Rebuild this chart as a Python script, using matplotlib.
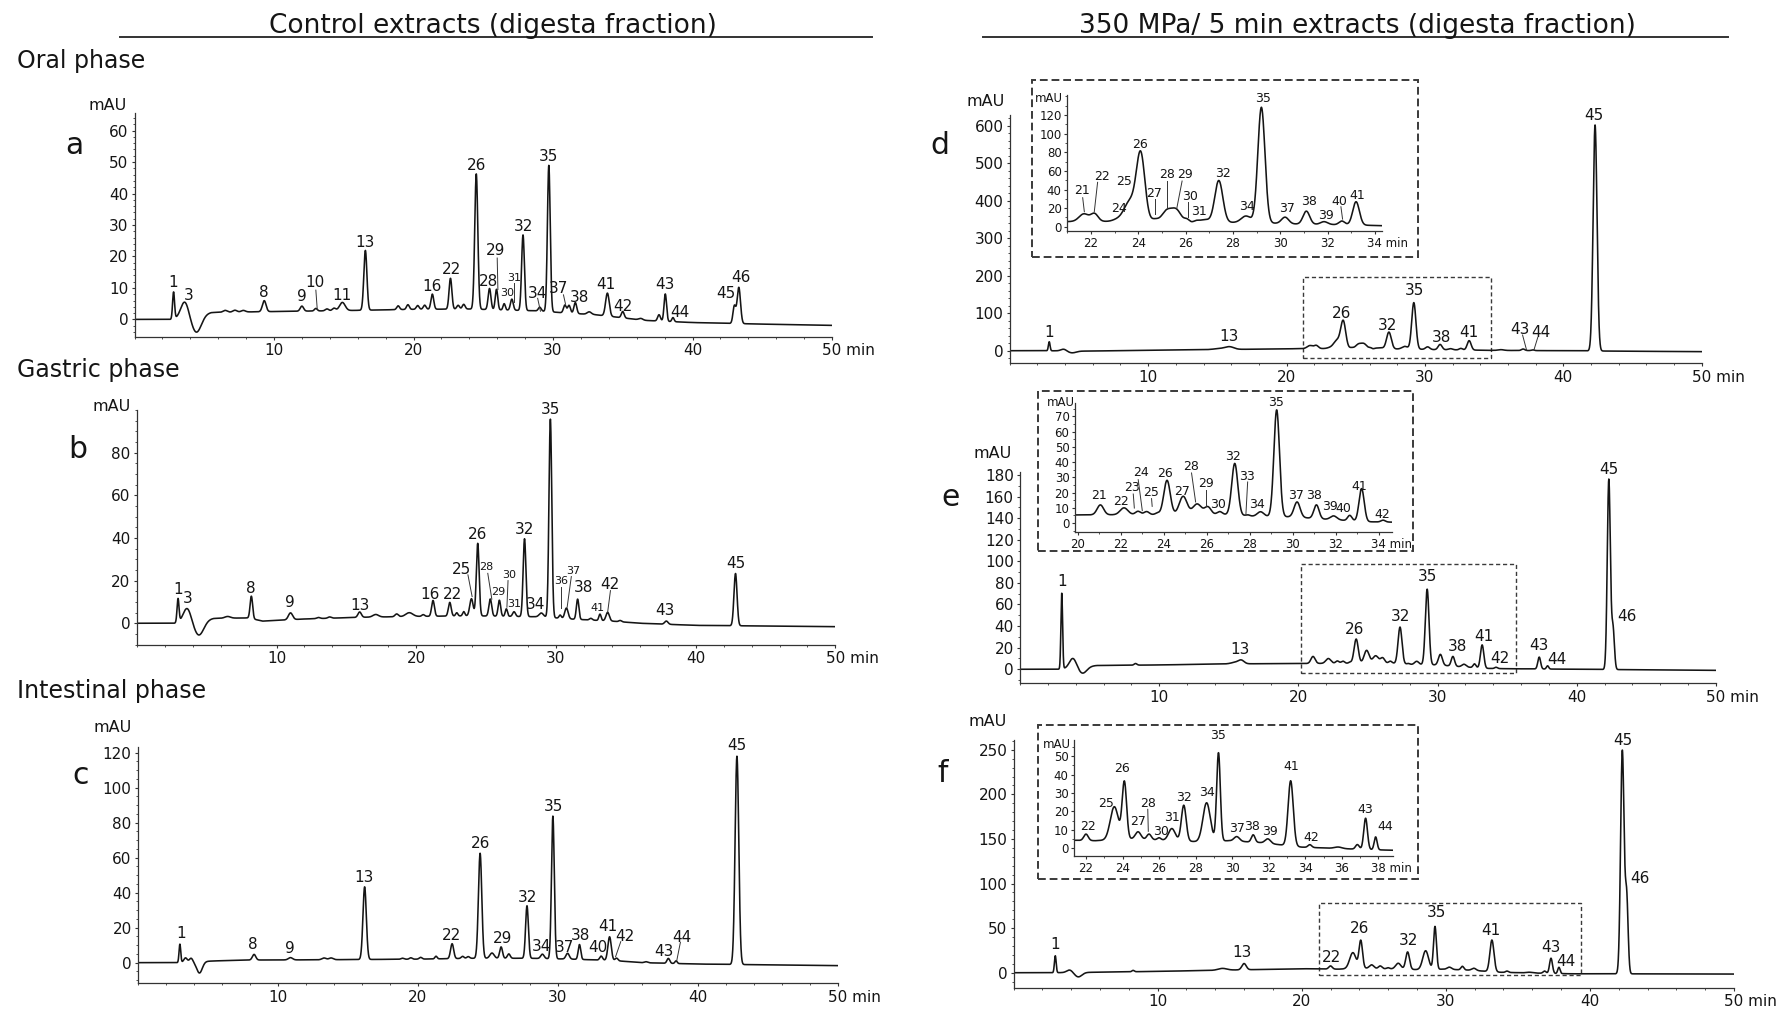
import numpy as np
import matplotlib
matplotlib.use("Agg")
import matplotlib.pyplot as plt
from matplotlib.patches import Rectangle
from matplotlib.ticker import MultipleLocator

# retention time grid, min
tt = np.linspace(0, 50, 8001)

# ---------------- data ----------------
# baseline knots (min, mAU), peaks (rt, height above baseline, width sd)
# labels (text, rt, mAU), leader lines (x0, y0, x1, y1)

# a - control, oral phase
a_base = [(0, 0), (2.6, 0), (5.5, 2.2), (10, 2.5), (15, 2.8), (20, 3.2), (24, 3.3), (29, 2.7),
          (31, 2.0), (33, 1.5), (35, 0.5), (36.5, -0.3), (40, -1.0), (45, -1.5), (50, -1.9)]
a_peaks = [(2.8, 8.5, .07), (3.6, 5.0, .28), (4.45, -5.5, .35), (6.5, .6, .15), (7.2, .6, .15),
           (7.8, .5, .15), (9.3, 3.5, .13), (12.0, 1.6, .12), (13.0, .8, .1), (13.8, .6, .12),
           (14.3, .8, .12), (14.9, 2.6, .2), (16.55, 19.0, .11), (18.9, 1.2, .1), (19.6, 1.5, .1),
           (20.3, 1.2, .1), (20.8, 1.3, .1), (21.35, 4.8, .1), (22.65, 9.8, .1), (23.2, 1.2, .1),
           (23.6, 1.5, .1), (24.5, 43.0, .11), (25.45, 6.7, .1), (25.95, 6.5, .09), (26.5, 2.0, .08),
           (27.05, 3.5, .1), (27.85, 24.0, .1), (29.05, 1.2, .1), (29.7, 46.5, .1), (30.85, 2.5, .1),
           (31.15, 2.5, .1), (31.6, 3.5, .1), (32.6, .8, .15), (33.9, 7.3, .13), (35.0, 2.0, .1),
           (36.3, .5, .15), (37.6, 2.0, .1), (38.05, 8.7, .09), (38.6, 1.3, .08), (43.0, 5.5, .1),
           (43.32, 11.5, .12)]
a_labels = [("1", 2.8, 11.7), ("3", 3.9, 7.7), ("8", 9.3, 8.5), ("9", 12.0, 7.2), ("10", 12.9, 11.7),
            ("11", 14.9, 7.7), ("13", 16.5, 24.5), ("16", 21.3, 10.4), ("22", 22.7, 15.9),
            ("26", 24.5, 48.9), ("28", 25.4, 12.0), ("29", 25.9, 21.8), ("30", 26.7, 8.3),
            ("31", 27.2, 13.0), ("32", 27.9, 29.5), ("34", 28.9, 8.3), ("35", 29.7, 51.7),
            ("37", 30.4, 9.8), ("38", 31.9, 6.9), ("41", 33.8, 11.1), ("42", 35.0, 4.0),
            ("43", 38.0, 11.2), ("44", 39.1, 2.1), ("45", 42.4, 8.1), ("46", 43.5, 13.4)]
a_small = ["30", "31"]
a_leaders = [(13.0, 9.3, 13.1, 3.2), (26.0, 19.5, 26.05, 9.5), (27.2, 11.5, 27.2, 5.6),
             (28.9, 6.7, 29.1, 2.6), (30.75, 7.8, 30.9, 4.8)]
a_yticks = [0, 10, 20, 30, 40, 50, 60]

# b - control, gastric phase
b_base = [(0, 0), (2.7, 0), (5.5, 2.3), (8, 2.5), (9, 1.0), (12, 2.0), (16, 2.8), (20, 3.2),
          (24, 3.5), (29, 3.0), (31, 2.0), (34, 1.0), (36, 0), (40, -1.0), (50, -1.6)]
b_peaks = [(2.95, 11.0, .07), (3.6, 6.5, .28), (4.45, -7.0, .35), (6.5, .8, .2), (8.2, 10.5, .09),
           (11.0, 3.2, .15), (13.0, .5, .12), (13.8, .6, .12), (15.95, 2.5, .12), (17.1, 1.2, .2),
           (18.6, 1.3, .12), (19.5, 1.8, .25), (20.5, .8, .1), (21.2, 7.4, .1), (22.4, 6.4, .1),
           (22.9, 1.5, .08), (23.4, 2.0, .08), (23.95, 8.0, .12), (24.4, 34.0, .1), (25.3, 8.0, .1),
           (25.95, 7.5, .09), (26.45, 3.5, .08), (27.0, 2.2, .1), (27.75, 36.5, .1), (28.95, 1.8, .15),
           (29.6, 93.0, .1), (30.3, 1.5, .08), (30.75, 5.0, .12), (31.55, 9.5, .09), (32.5, .8, .1),
           (33.15, 3.0, .08), (33.7, 4.0, .12), (34.6, .6, .1), (37.9, 1.5, .12), (42.85, 24.5, .11)]
b_labels = [("1", 2.93, 15.9), ("3", 3.64, 11.6), ("8", 8.18, 16.4), ("9", 10.95, 9.7),
            ("13", 15.95, 8.3), ("16", 21.0, 13.3), ("22", 22.56, 13.6), ("25", 23.26, 25.3),
            ("26", 24.38, 41.7), ("28", 25.04, 26.3), ("29", 25.87, 14.5), ("30", 26.65, 22.7),
            ("31", 26.98, 8.9), ("32", 27.73, 44.1), ("34", 28.55, 8.9), ("35", 29.59, 100.0),
            ("36", 30.37, 19.8), ("37", 31.24, 24.7), ("38", 31.94, 16.7), ("41", 32.98, 7.0),
            ("42", 33.88, 18.0), ("43", 37.81, 5.9), ("45", 42.89, 28.1)]
b_small = ["28", "29", "30", "31", "36", "37", "41"]
b_leaders = [(23.7, 22.7, 24.0, 12.5), (25.12, 23.4, 25.41, 11.3), (26.57, 20.0, 26.49, 7.5),
             (30.37, 17.2, 30.37, 7.0), (31.1, 21.9, 30.8, 7.5), (33.9, 15.3, 33.7, 5.2)]
b_yticks = [0, 20, 40, 60, 80]

# c - control, intestinal phase
c_base = [(0, 0), (2.8, 0), (5.5, 1.0), (8, 1.5), (12, 1.6), (16, 1.8), (20, 2.0), (24, 2.5),
          (28, 2.5), (31, 2.0), (34, 1.2), (36, 0), (40, -0.8), (50, -1.7)]
c_peaks = [(3.0, 10.5, .06), (3.4, 2.5, .12), (3.8, 2.2, .12), (4.4, -6.5, .2), (8.3, 3.2, .12),
           (10.9, 1.3, .15), (13.3, 1.0, .15), (13.8, 1.0, .15), (16.2, 41.5, .12), (18.9, .6, .1),
           (19.5, .8, .1), (20.2, 1.0, .1), (21.3, 1.5, .08), (22.45, 8.5, .11), (23.2, 1.2, .1),
           (23.6, 1.0, .1), (24.45, 60.0, .12), (25.3, 3.0, .15), (25.95, 6.5, .1), (26.5, 2.5, .1),
           (27.8, 30.0, .1), (28.9, 2.5, .12), (29.65, 81.5, .1), (30.7, 3.3, .12), (31.55, 8.5, .09),
           (33.1, 2.3, .1), (33.7, 13.5, .12), (34.2, 1.5, .1), (36.3, .6, .12), (37.9, 2.8, .1),
           (38.45, 1.5, .08), (42.8, 119.0, .13)]
c_labels = [("1", 3.1, 16.8), ("8", 8.18, 10.1), ("9", 10.87, 8.2), ("13", 16.16, 48.6),
            ("22", 22.44, 15.8), ("26", 24.5, 68.2), ("29", 26.07, 13.9), ("32", 27.81, 37.3),
            ("34", 28.84, 9.1), ("35", 29.67, 89.5), ("37", 30.45, 8.8), ("38", 31.65, 15.8),
            ("40", 32.85, 8.6), ("41", 33.6, 20.6), ("42", 34.8, 14.9), ("43", 37.6, 6.3),
            ("44", 38.84, 14.5), ("45", 42.77, 124.2)]
c_small = []
c_leaders = [(34.5, 12.0, 34.13, 3.4), (38.76, 11.6, 38.5, 1.1)]
c_yticks = [0, 20, 40, 60, 80, 100, 120]

# d - 350 MPa, oral phase
d_base = [(0, 0), (2.5, 0), (5.5, -1), (10, 1), (15, 3), (20, 5), (22, 6), (24, 5), (29, 4.5),
          (30.5, 3), (33, 2), (34.5, 1), (37, 0.5), (40, 0), (45, -1.5), (50, -2.5)]
d_peaks = [(2.85, 24, .06), (3.9, 5, .2), (4.5, -5, .3), (15.3, 3, .5), (15.9, 6, .3), (21.7, 8, .2),
           (22.15, 8, .15), (23.1, 2, .2), (23.65, 22, .25), (24.1, 72, .18), (24.7, 3, .15),
           (25.2, 12, .2), (25.6, 13, .2), (26.05, 3, .1), (26.45, 1.5, .1), (26.8, 3, .2),
           (27.4, 45, .17), (28.55, 7, .2), (29.2, 124, .15), (30.2, 7, .15), (31.1, 14, .14),
           (31.85, 3, .15), (32.6, 4, .12), (33.2, 25, .14), (35.5, 2, .2), (37.1, 4, .12),
           (37.8, 2, .1), (42.3, 603, .14)]
d_labels = [("1", 2.86, 49), ("13", 15.84, 39.2), ("26", 24.0, 99.7), ("32", 27.3, 68.5),
            ("35", 29.22, 160.2), ("38", 31.22, 35.6), ("41", 33.18, 49), ("43", 36.86, 57),
            ("44", 38.4, 48), ("45", 42.24, 627.6)]
d_leaders = [(37.06, 41.8, 37.35, 1.8), (38.16, 35.6, 37.88, 1.8)]
d_yticks = [0, 100, 200, 300, 400, 500, 600]
d_zoom = (21.2, 34.8, -20, 196)
d_in_labels = [("21", 21.62, 38.4), ("22", 22.46, 53.8), ("24", 23.17, 19.7), ("25", 23.38, 49.1),
               ("26", 24.08, 87.8), ("27", 24.68, 35.8), ("28", 25.2, 55.6), ("29", 25.99, 55.6),
               ("30", 26.18, 32.3), ("31", 26.58, 16.8), ("32", 27.56, 57.3), ("34", 28.58, 21.5),
               ("35", 29.25, 138), ("37", 30.27, 19.7), ("38", 31.2, 26.9), ("39", 31.93, 11.8),
               ("40", 32.49, 27.6), ("41", 33.27, 34)]
d_in_leaders = [(21.65, 31.2, 21.72, 16.1), (22.28, 47.7, 22.14, 16.1), (24.72, 29.7, 24.72, 13.3),
                (25.21, 49.1, 25.21, 19), (25.85, 49.1, 25.62, 19), (26.08, 26.9, 26.08, 10.8),
                (32.56, 21.5, 32.63, 8.2)]
d_in_yticks = [0, 20, 40, 60, 80, 100, 120]
d_in_xticks = [22, 24, 26, 28, 30, 32, 34]

# e - 350 MPa, gastric phase
e_base = [(0, 0), (2.7, 0), (5.5, 3.5), (10, 4), (15, 5), (20, 5.3), (23, 5.5), (26.8, 5.5), (28, 4.5),
          (30, 4), (31.5, 2.5), (33.5, 0.8), (35, 0.5), (40, 0), (45, -0.5), (50, -1)]
e_peaks = [(3.0, 70, .06), (3.8, 9, .25), (4.5, -6, .3), (8.3, 1.5, .1), (15.5, 1.5, .3), (15.9, 3, .2),
           (21.05, 6.5, .15), (22.15, 4.5, .18), (22.8, 2.2, .12), (23.2, 2, .12), (23.7, 1, .1),
           (24.15, 22.5, .15), (24.9, 12, .18), (25.55, 7, .2), (26.05, 5, .15), (26.6, 2, .12),
           (27.3, 34, .14), (27.9, .8, .1), (28.5, 3, .15), (29.25, 70, .13), (30.2, 10, .14),
           (31.1, 9, .12), (31.9, 2.5, .15), (32.65, 3.5, .1), (33.2, 21.5, .12), (34.2, 1.2, .1),
           (37.3, 11, .1), (37.9, 3, .08), (42.3, 176, .11), (42.6, 38, .1)]
e_labels = [("1", 3.0, 81.2), ("13", 15.8, 18.5), ("26", 24.05, 37), ("32", 27.3, 48.7),
            ("35", 29.3, 85.8), ("38", 31.4, 21), ("41", 33.3, 30.2), ("42", 34.5, 10.2),
            ("43", 37.3, 21.6), ("44", 38.6, 8.6), ("45", 42.3, 185.2), ("46", 43.6, 48.7)]
e_leaders = []
e_yticks = [0, 20, 40, 60, 80, 100, 120, 140, 160, 180]
e_zoom = (20.2, 35.65, -3.1, 97.5)
e_in_labels = [("21", 20.98, 18.2), ("22", 22.01, 14.2), ("23", 22.5, 23.4), ("24", 22.94, 32.8),
               ("25", 23.43, 19.7), ("26", 24.05, 32.2), ("27", 24.83, 20.8), ("28", 25.29, 36.8),
               ("29", 25.94, 25.6), ("30", 26.53, 12), ("32", 27.23, 43.8), ("33", 27.85, 30.6),
               ("34", 28.32, 12), ("35", 29.2, 78.8), ("37", 30.13, 18.2), ("38", 31.0, 18.2),
               ("39", 31.73, 10.9), ("40", 32.35, 9.8), ("41", 33.08, 24.1), ("42", 34.16, 5.9)]
e_in_leaders = [(22.58, 19, 22.63, 9.8), (22.81, 28.4, 23.0, 8.1), (23.43, 16, 23.46, 10.9),
                (25.29, 32.8, 25.48, 13.8), (25.94, 21.9, 25.94, 10.9), (27.9, 26.9, 27.82, 5.9)]
e_in_yticks = [0, 10, 20, 30, 40, 50, 60, 70]
e_in_xticks = [20, 22, 24, 26, 28, 30, 32, 34]

# f - 350 MPa, intestinal phase
f_base = [(0, 0), (2.6, 0), (5.5, 0.5), (10, 1.5), (15, 3), (20, 4.5), (22.5, 4), (24.5, 5), (27, 4),
          (28, 3.5), (29.8, 4), (31.5, 3), (33.8, 0.5), (36.5, -0.5), (38.7, -1.2), (45, -1.3), (50, -1.5)]
f_peaks = [(2.9, 19, .06), (3.9, 3, .2), (4.5, -5, .25), (8.3, 1.5, .08), (14.5, 2, .3), (16.0, 7, .15),
           (22.0, 3.5, .12), (23.55, 18, .22), (24.1, 31, .12), (24.85, 4, .15), (25.45, 3, .12),
           (26.0, 1.2, .1), (26.7, 6.5, .18), (27.35, 19.5, .13), (28.6, 21, .2), (29.25, 48, .1),
           (30.25, 2.5, .15), (31.15, 4, .1), (31.95, 2.5, .15), (33.2, 35.5, .14), (34.25, 1.5, .1),
           (35.8, .8, .2), (36.85, 2.5, .1), (37.3, 17, .1), (37.85, 7, .08), (42.25, 250, .12),
           (42.55, 85, .1)]
f_labels = [("1", 2.89, 31.1), ("13", 15.89, 22.5), ("22", 22.1, 17.3), ("26", 24.03, 49.8),
            ("32", 27.43, 35.6), ("35", 29.35, 67.4), ("41", 33.16, 47.2), ("43", 37.28, 28.1),
            ("44", 38.36, 13.1), ("45", 42.3, 260.5), ("46", 43.5, 105.2)]
f_leaders = []
f_yticks = [0, 50, 100, 150, 200, 250]
f_zoom = (21.2, 39.4, -2.6, 78.6)
f_in_labels = [("22", 22.09, 12), ("25", 23.08, 24.5), ("26", 23.99, 43.3), ("27", 24.83, 14.5),
               ("28", 25.41, 24.2), ("30", 26.1, 9.1), ("31", 26.69, 16.5), ("32", 27.38, 27.8),
               ("34", 28.6, 30.2), ("35", 29.21, 61.5), ("37", 30.25, 10.9), ("38", 31.11, 11.5),
               ("39", 32.07, 9.1), ("41", 33.22, 44.5), ("42", 34.32, 5.5), ("43", 37.27, 21.1),
               ("44", 38.37, 12)]
f_in_leaders = [(25.38, 21.1, 25.41, 9.1)]
f_in_yticks = [0, 10, 20, 30, 40, 50]
f_in_xticks = [22, 24, 26, 28, 30, 32, 34, 36, 38]

main_xticks = [10, 20, 30, 40, 50]

# ---------------- drawing ----------------
W, H = 1787, 1011
INK = "#151515"
AXC = "#333333"
fig = plt.figure(figsize=(W / 100, H / 100), dpi=100)


def add_ax(x0, y0, x1, y1):
    # pixel box (left, top, right, bottom) -> figure axes
    return fig.add_axes([x0 / W, 1 - y1 / H, (x1 - x0) / W, (y1 - y0) / H])


def ftext(x, y, s, **kw):
    fig.text(x / W, 1 - y / H, s, color=INK, **kw)


def chrom(base, peaks):
    bt, by = zip(*base)
    y = np.interp(tt, bt, by)
    for rt, h, sd in peaks:
        y = y + h * np.exp(-0.5 * ((tt - rt) / sd) ** 2)
    return y


def style(ax, xticks, xminor, yticks, yminor, fs, tl):
    for s in ("top", "right"):
        ax.spines[s].set_visible(False)
    for s in ("left", "bottom"):
        ax.spines[s].set_color(AXC)
        ax.spines[s].set_linewidth(0.9)
    ax.set_xticks(xticks)
    ax.set_xticklabels([str(v) for v in xticks[:-1]] + [""])
    ax.xaxis.set_minor_locator(MultipleLocator(xminor))
    ax.set_yticks(yticks)
    ax.yaxis.set_minor_locator(MultipleLocator(yminor))
    ax.tick_params(which="major", length=tl, width=0.8, color=AXC, labelsize=fs, pad=2,
                   labelcolor=INK)
    ax.tick_params(which="minor", length=tl * 0.6, width=0.6, color=AXC)
    ax.annotate(f"{xticks[-1]} min", xy=(xticks[-1], 0), xycoords=("data", "axes fraction"),
                xytext=(-fs * 0.636, -(tl + 2)), textcoords="offset points",
                ha="left", va="top", fontsize=fs, color=INK)
    ax.patch.set_visible(False)


def put_labels(ax, labels, leaders, fs, small=(), small_fs=8):
    for txt, x, y in labels:
        ax.text(x, y, txt, ha="center", va="center", color=INK, clip_on=False,
                fontsize=small_fs if txt in small else fs)
    for x0, y0, x1, y1 in leaders:
        ax.plot([x0, x1], [y0, y1], color=AXC, lw=0.7, clip_on=False)


def main_panel(box, ylim, yticks, yminor, y, labels, leaders, small, letter, letter_xy, mau_xy):
    ax = add_ax(*box)
    ax.plot(tt, y, color=INK, lw=1.15)
    ax.set_xlim(0, 50)
    ax.set_ylim(*ylim)
    style(ax, main_xticks, 2, yticks, yminor, 11, 2.5)
    put_labels(ax, labels, leaders, 11, small, 8)
    ftext(*letter_xy, letter, fontsize=21.5, ha="center", va="center")
    ftext(*mau_xy, "mAU", fontsize=11.5, ha="center", va="center")
    return ax


def inset_panel(box, xlim, ylim, xticks, yticks, yminor, y, labels, leaders, mau_xy, frame):
    ax = add_ax(*box)
    ax.plot(tt, y, color=INK, lw=1.15)
    ax.set_xlim(*xlim)
    ax.set_ylim(*ylim)
    style(ax, xticks, 1, yticks, yminor, 8.5, 2)
    put_labels(ax, labels, leaders, 9)
    ftext(*mau_xy, "mAU", fontsize=8.5, ha="center", va="center")
    x0, y0, x1, y1 = frame
    fig.add_artist(Rectangle((x0 / W, 1 - y1 / H), (x1 - x0) / W, (y1 - y0) / H,
                             transform=fig.transFigure, fill=False, ec="#3a3a3a",
                             lw=1.4, ls=(0, (4, 2))))


def zoom_box(ax, zb):
    x0, x1, y0, y1 = zb
    ax.add_patch(Rectangle((x0, y0), x1 - x0, y1 - y0, fill=False, ec="#3a3a3a",
                           lw=1.0, ls=(0, (3, 2))))


# column headings
ftext(493, 33, "Control extracts (digesta fraction)", fontsize=19, ha="center", va="baseline")
ftext(1357, 33, "350 MPa/ 5 min extracts (digesta fraction)", fontsize=19, ha="center",
      va="baseline")
fig.add_artist(plt.Line2D([120 / W, 872 / W], [1 - 37 / H] * 2, color=AXC, lw=1.4))
fig.add_artist(plt.Line2D([983 / W, 1728 / W], [1 - 37 / H] * 2, color=AXC, lw=1.4))

ftext(17, 68, "Oral phase", fontsize=17, ha="left", va="baseline")
ftext(17, 377, "Gastric phase", fontsize=17, ha="left", va="baseline")
ftext(17, 698, "Intestinal phase", fontsize=17, ha="left", va="baseline")

ya, yb, yc = chrom(a_base, a_peaks), chrom(b_base, b_peaks), chrom(c_base, c_peaks)
yd, ye, yf = chrom(d_base, d_peaks), chrom(e_base, e_peaks), chrom(f_base, f_peaks)

main_panel((134.5, 113, 832, 336.7), (-5.5, 65.6), a_yticks, 2, ya, a_labels, a_leaders, a_small,
           "a", (74, 145), (107.5, 105))
main_panel((136.8, 410, 835.4, 645), (-10.2, 100), b_yticks, 5, yb, b_labels, b_leaders, b_small,
           "b", (78, 449), (112, 406.7))
main_panel((137.9, 746.7, 837.7, 983.3), (-11.8, 123.4), c_yticks, 5, yc, c_labels, c_leaders,
           c_small, "c", (81, 776), (112.7, 727.7))

axd = main_panel((1009.8, 115, 1701.6, 363.3), (-33.6, 629), d_yticks, 20, yd, d_labels, d_leaders,
                 [], "d", (939.5, 145), (986, 101.7))
zoom_box(axd, d_zoom)
axe = main_panel((1020, 471.7, 1716, 683.3), (-13, 183), e_yticks, 10, ye, e_labels, e_leaders,
                 [], "e", (950.8, 497), (993, 454))
zoom_box(axe, e_zoom)
axf = main_panel((1013.5, 740, 1734, 987.7), (-16.8, 261), f_yticks, 10, yf, f_labels, f_leaders,
                 [], "f", (942.3, 774), (988, 721.7))
zoom_box(axf, f_zoom)

inset_panel((1067.3, 95, 1382.1, 231.4), (21, 34.3), (-5, 141.5), d_in_xticks, d_in_yticks, 10,
            yd, d_in_labels, d_in_leaders, (1049, 99), (1031.7, 80, 1418, 256.7))
inset_panel((1075, 403, 1391.7, 532), (19.87, 34.6), (-5.9, 78.7), e_in_xticks, e_in_yticks, 5,
            ye, e_in_labels, e_in_leaders, (1061, 402), (1037.7, 391.3, 1413.3, 550.7))
inset_panel((1074.3, 740.3, 1393, 856.3), (21.36, 38.8), (-4.5, 58.7), f_in_xticks, f_in_yticks, 5,
            yf, f_in_labels, f_in_leaders, (1057, 744.7), (1037.7, 725.3, 1418.3, 878.7))

fig.savefig("out.png", dpi=100, facecolor="white")
